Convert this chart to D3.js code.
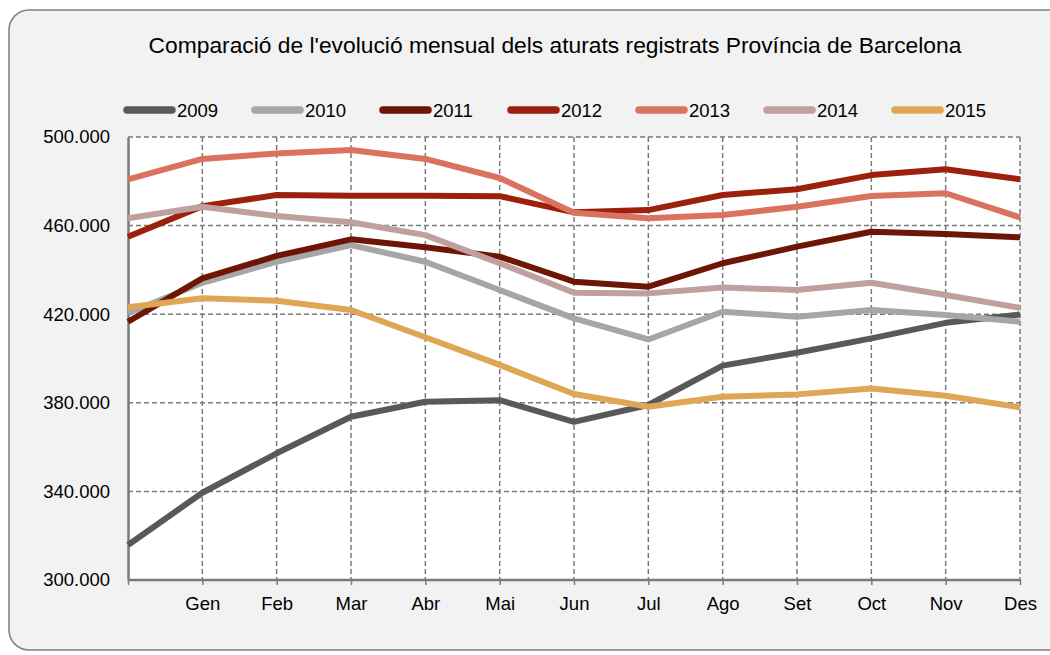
<!DOCTYPE html>
<html>
<head>
<meta charset="utf-8">
<script src="https://cdn.jsdelivr.net/npm/d3@7"></script>
<style>
  body { margin: 0; background: #fff; font-family: Arial, "Liberation Sans", sans-serif; }
  svg text { font-family: Arial, "Liberation Sans", sans-serif; fill: #000; }
</style>
</head>
<body>
<div id="chart"></div>
<script>
// month labels (first slot is previous December, left blank)
const months = ["", "Gen", "Feb", "Mar", "Abr", "Mai", "Jun", "Jul", "Ago", "Set", "Oct", "Nov", "Des"];
const yTicks = [300000, 340000, 380000, 420000, 460000, 500000];

const years = ["2009", "2010", "2011", "2012", "2013", "2014", "2015"];
const colors = ["#595959", "#a6a6a6", "#6e1605", "#9c200b", "#d9735f", "#c09f9f", "#dfa655"];

const v2009 = [315800, 339400, 357200, 373700, 380500, 381200, 371400, 379000, 396800, 402600, 409100, 416100, 419900];
const v2010 = [420400, 434200, 443700, 451200, 443700, 430900, 418100, 408600, 421100, 418900, 421900, 419600, 416600];
const v2011 = [416600, 436200, 446300, 453800, 450200, 446000, 434700, 432400, 443000, 450500, 457200, 456200, 454700];
const v2012 = [455000, 468800, 473800, 473500, 473500, 473300, 466000, 467000, 473800, 476400, 482800, 485400, 480900];
const v2013 = [480900, 490100, 492600, 494100, 490100, 481500, 465800, 463300, 464800, 468500, 473400, 474600, 463700];
const v2014 = [463300, 468500, 464300, 461500, 455700, 443000, 429700, 429400, 432100, 430900, 434200, 428700, 422900];
const v2015 = [423100, 427200, 426100, 421900, 409600, 397100, 384000, 378200, 382700, 383800, 386500, 383200, 378000];

const seriesValues = [v2009, v2010, v2011, v2012, v2013, v2014, v2015];

const W = 1050, H = 655;
const margin = {top: 137, right: 30, bottom: 75, left: 128};

const svg = d3.select("#chart").append("svg")
  .attr("width", W)
  .attr("height", H);

// panel background
svg.append("rect")
  .attr("x", 9).attr("y", 10)
  .attr("width", 1080).attr("height", 640)
  .attr("rx", 20).attr("ry", 20)
  .attr("fill", "#f2f2f2")
  .attr("stroke", "#7f7f7f")
  .attr("stroke-width", 1.5);

const x = d3.scalePoint()
  .domain(d3.range(months.length))
  .range([margin.left, W - margin.right]);

const y = d3.scaleLinear()
  .domain([300000, 500000])
  .range([H - margin.bottom, margin.top]);

// plot background
svg.append("rect")
  .attr("x", margin.left).attr("y", margin.top)
  .attr("width", x(12) - margin.left)
  .attr("height", y(300000) - margin.top)
  .attr("fill", "#fff");

// title
svg.append("text")
  .attr("x", 555).attr("y", 53)
  .attr("text-anchor", "middle")
  .style("font-size", "22.8px")
  .text("Comparació de l'evolució mensual dels aturats registrats Província de Barcelona");

// grid
const grid = svg.append("g");
grid.selectAll(".hgrid")
  .data(yTicks.slice(1))
  .enter().append("line")
  .attr("x1", margin.left).attr("x2", x(12))
  .attr("y1", d => y(d)).attr("y2", d => y(d))
  .attr("stroke", "#7a7a7a").attr("stroke-width", 1.5)
  .attr("stroke-dasharray", "5,3");
grid.selectAll(".vgrid")
  .data(d3.range(1, months.length))
  .enter().append("line")
  .attr("x1", d => x(d)).attr("x2", d => x(d))
  .attr("y1", y(500000)).attr("y2", y(300000))
  .attr("stroke", "#7a7a7a").attr("stroke-width", 1.5)
  .attr("stroke-dasharray", "5,3");

// axes
const fmt = d => d3.format(",")(d).replace(/,/g, ".");
const yAxis = d3.axisLeft(y).tickValues(yTicks).tickFormat(fmt).tickSize(0).tickPadding(18);
const gy = svg.append("g")
  .attr("transform", "translate(" + margin.left + ",0)")
  .call(yAxis);
gy.select(".domain").attr("stroke", "#7a7a7a").attr("stroke-width", 2.5);
gy.selectAll("text").style("font-size", "18.5px");

const xAxis = d3.axisBottom(x).tickFormat(i => months[i]).tickSize(5).tickPadding(12);
const gx = svg.append("g")
  .attr("transform", "translate(0," + y(300000) + ")")
  .call(xAxis);
gx.select(".domain").attr("stroke", "#7a7a7a").attr("stroke-width", 2.5).attr("d", "M" + margin.left + ",0H" + x(12));
gx.selectAll(".tick line").attr("stroke", "#7a7a7a").attr("stroke-width", 1.5);
gx.selectAll("text").style("font-size", "18.5px");

// lines
const line = d3.line()
  .x((d, i) => x(i))
  .y(d => y(d));

svg.append("g").selectAll("path")
  .data(seriesValues)
  .enter().append("path")
  .attr("d", d => line(d))
  .attr("fill", "none")
  .attr("stroke", (d, i) => colors[i])
  .attr("stroke-width", 6)
  .attr("stroke-linejoin", "round");

// legend
const legend = svg.append("g").attr("transform", "translate(123,110)");
const item = legend.selectAll("g")
  .data(years)
  .enter().append("g")
  .attr("transform", (d, i) => "translate(" + (i * 128) + ",0)");
item.append("line")
  .attr("x1", 4).attr("x2", 49)
  .attr("y1", 0).attr("y2", 0)
  .attr("stroke", (d, i) => colors[i])
  .attr("stroke-width", 7.5)
  .attr("stroke-linecap", "round");
item.append("text")
  .attr("x", 54).attr("y", 6.5)
  .style("font-size", "18.5px")
  .text(d => d);
</script>
</body>
</html>
